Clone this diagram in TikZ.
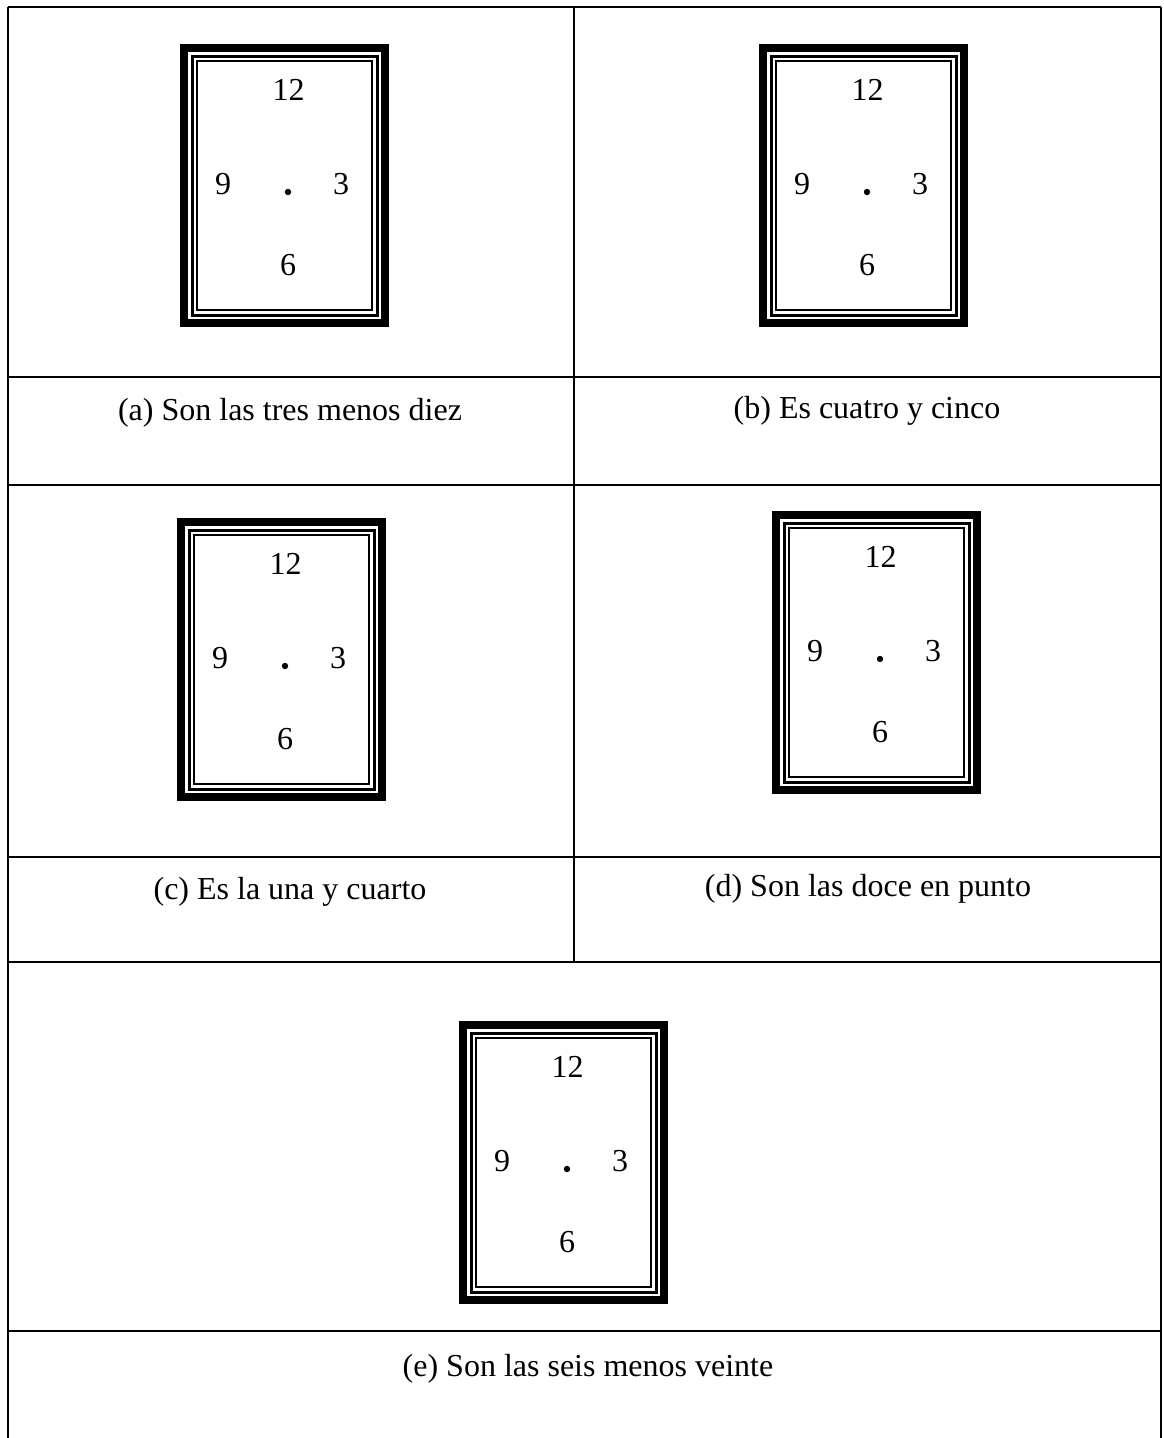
\documentclass[tikz,border=0pt]{standalone}
\usepackage{fontspec}
\setmainfont{Liberation Serif}
\begin{document}
\begin{tikzpicture}[x=1pt,y=-1pt,
  rule/.style={line width=1.8pt,black},
  num/.style={font=\fontsize{32}{36}\selectfont,inner sep=0pt,anchor=center},
  captext/.style={font=\fontsize{32}{36}\selectfont,inner sep=0pt,anchor=center},
  clock/.pic={
    \draw[line width=8pt] (4,4) rectangle (205,279);
    \draw[line width=3pt] (12,12) rectangle (197,271);
    \draw[line width=2pt] (17,17) rectangle (192,266);
    \node[num] (-twelve) at (108.5,46) {12};
    \node[num] (-nine) at (43,140) {9};
    \node[num] (-three) at (161,140) {3};
    \node[num] (-six) at (108,221) {6};
    \fill (108,148) circle (3.2pt);
  }]
\useasboundingbox (0,0) rectangle (1164,1438);
\fill[white] (0,0) rectangle (1164,1438);
% table rules
\draw[rule] (8,7) -- (1161,7);
\draw[rule] (8,7) -- (8,1438);
\draw[rule] (1161,7) -- (1161,1438);
\draw[rule] (574,7) -- (574,962);
\draw[rule] (8,377) -- (1161,377);
\draw[rule] (8,485) -- (1161,485);
\draw[rule] (8,857) -- (1161,857);
\draw[rule] (8,962) -- (1161,962);
\draw[rule] (8,1331) -- (1161,1331);
% clocks
\pic (a) at (180,44) {clock};
\pic (b) at (759,44) {clock};
\pic (c) at (177,518) {clock};
\pic (d) at (772,511) {clock};
\pic (e) at (459,1021) {clock};
% captions
\node[captext] (capa) at (290,413) {(a) Son las tres menos diez};
\node[captext] (capb) at (867,411) {(b) Es cuatro y cinco};
\node[captext] (capc) at (290,892) {(c) Es la una y cuarto};
\node[captext] (capd) at (868,889) {(d) Son las doce en punto};
\node[captext] (cape) at (588,1369) {(e) Son las seis menos veinte};
\end{tikzpicture}
\end{document}
